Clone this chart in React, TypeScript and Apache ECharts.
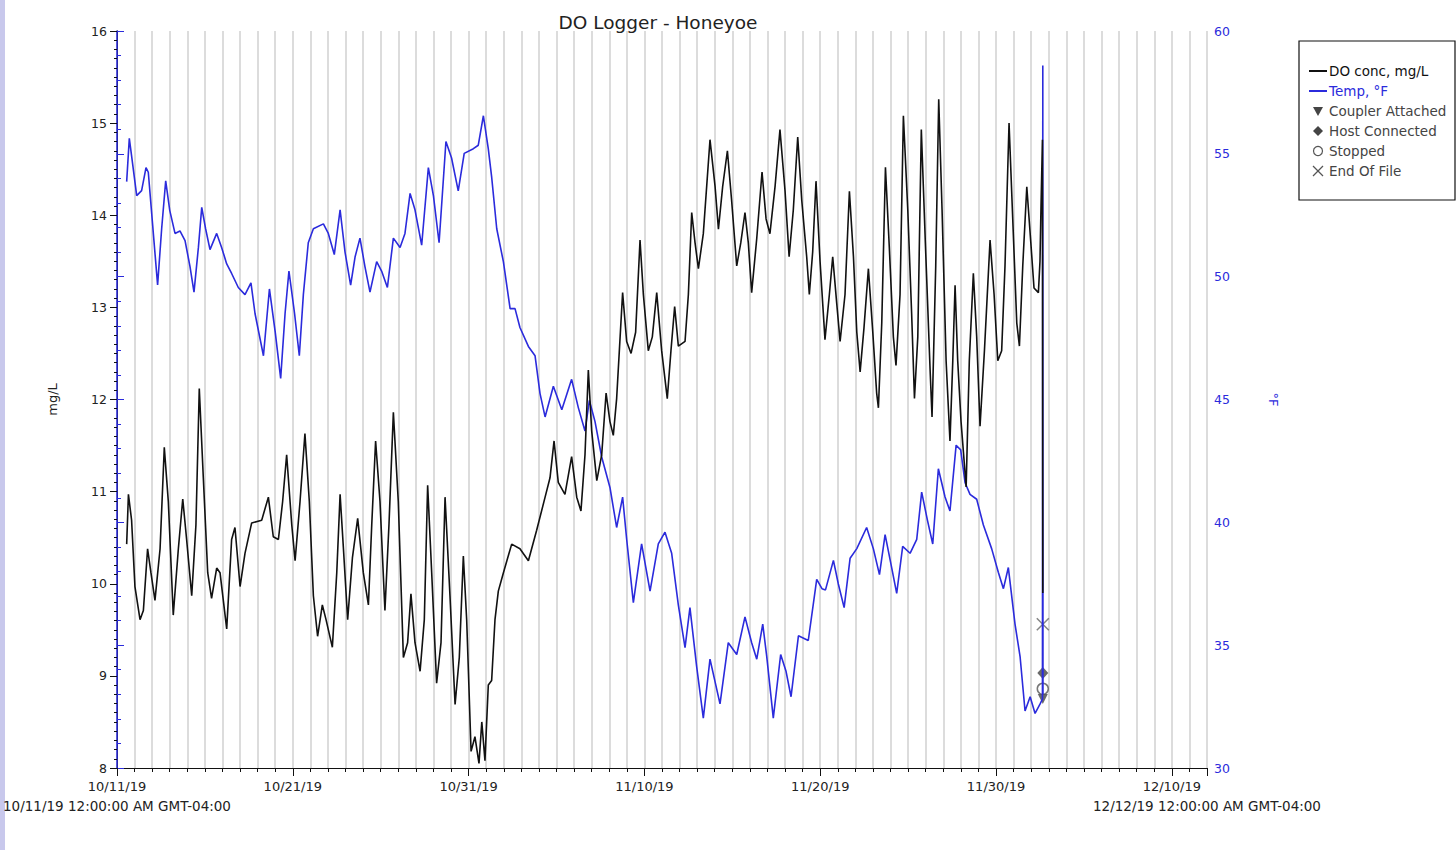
import React, { useEffect, useRef } from 'react';
import * as echarts from 'echarts';

// x values are days since 10/11/19 12:00 AM
const xTickLabels = ['10/11/19', '10/21/19', '10/31/19', '11/10/19', '11/20/19', '11/30/19', '12/10/19'];
const xStartLabel = '10/11/19 12:00:00 AM GMT-04:00';
const xEndLabel = '12/12/19 12:00:00 AM GMT-04:00';
const titleText = 'DO Logger - Honeyoe';
const legendLabels = ['DO conc, mg/L', 'Temp, °F', 'Coupler Attached', 'Host Connected', 'Stopped', 'End Of File'];

const tempSeg1: [number, number][] = [
  [0.55, 53.87], [0.70, 55.63], [0.83, 54.92], [1.12, 53.3], [1.4, 53.5], [1.65, 54.44], [1.78, 54.25], [2.0, 52.34],
  [2.31, 49.66], [2.54, 51.95], [2.77, 53.9], [3.0, 52.7], [3.3, 51.76], [3.58, 51.86], [3.87, 51.47], [4.15, 50.42],
  [4.38, 49.37], [4.63, 51.19], [4.82, 52.82], [5.04, 51.95], [5.29, 51.1], [5.67, 51.76], [5.95, 51.19], [6.24, 50.52],
  [6.52, 50.13], [6.9, 49.56], [7.28, 49.27], [7.62, 49.75], [7.85, 48.5], [8.33, 46.78], [8.67, 49.5], [9.0, 47.74],
  [9.31, 45.86], [9.56, 48.5], [9.78, 50.23], [10.1, 48.5], [10.37, 46.78], [10.6, 49.27], [10.88, 51.38], [11.17, 51.95],
  [11.74, 52.15], [12.02, 51.76], [12.36, 50.9], [12.69, 52.72], [12.97, 51.0], [13.29, 49.66], [13.54, 50.8], [13.82, 51.57],
  [14.1, 50.42], [14.39, 49.37], [14.77, 50.61], [15.05, 50.23], [15.38, 49.56], [15.72, 51.57], [16.1, 51.19], [16.38, 51.76],
  [16.67, 53.39], [16.95, 52.72], [17.33, 51.28], [17.71, 54.44], [18.0, 53.29], [18.32, 51.38], [18.71, 55.5], [19.03, 54.83],
  [19.41, 53.49], [19.75, 55.02], [20.27, 55.21],
];
const tempSeg2: [number, number][] = [
  [20.55, 55.35], [20.84, 56.55], [21.12, 55.2], [21.31, 54.06], [21.6, 51.95], [21.98, 50.6], [22.36, 48.7], [22.64, 48.7],
  [22.92, 47.93], [23.4, 47.16], [23.78, 46.78], [24.06, 45.25], [24.35, 44.29], [24.82, 45.54], [25.3, 44.58], [25.86, 45.82],
  [26.24, 44.67], [26.62, 43.72], [26.87, 44.96], [27.19, 44.1], [27.57, 42.66], [28.04, 41.42], [28.42, 39.79], [28.76, 41.03],
  [28.99, 39.31], [29.37, 36.73], [29.84, 39.12], [30.32, 37.2], [30.79, 39.12], [31.17, 39.6], [31.55, 38.74], [31.93, 36.63],
  [32.31, 34.9], [32.59, 36.53], [32.97, 34.14], [33.35, 32.03], [33.73, 34.43], [34.3, 32.61], [34.77, 35.1], [35.25, 34.62],
  [35.72, 36.15], [36.1, 35.1], [36.39, 34.43], [36.73, 35.86], [36.96, 34.52], [37.33, 32.03], [37.75, 34.62], [38.05, 33.95],
  [38.34, 32.9], [38.76, 35.38], [39.32, 35.19], [39.8, 37.68],
];
const tempSeg3: [number, number][] = [
  [40.1, 37.3], [40.3, 37.25], [40.75, 38.45], [41.03, 37.49], [41.36, 36.53], [41.7, 38.54], [42.08, 38.93], [42.64, 39.79],
  [43.02, 38.93], [43.37, 37.87], [43.69, 39.5], [44.01, 38.35], [44.35, 37.11], [44.69, 39.02], [45.11, 38.74], [45.49, 39.31],
  [45.77, 41.23], [46.1, 40.08], [46.4, 39.12], [46.72, 42.18], [47.1, 41.03], [47.38, 40.46], [47.73, 43.14], [47.99, 42.95],
  [48.24, 41.61], [48.52, 41.14], [48.9, 40.94], [49.28, 39.89], [49.75, 38.93], [50.13, 37.97], [50.42, 37.3], [50.7, 38.16],
  [51.08, 35.86], [51.37, 34.52], [51.65, 32.32], [51.94, 32.9], [52.22, 32.22], [52.5, 32.6], [52.64, 32.8], [52.66, 58.6],
  [52.67, 33.0],
];

const doSeg1: [number, number][] = [
  [0.55, 10.43], [0.65, 10.97], [0.83, 10.69], [1.02, 9.97], [1.31, 9.61], [1.5, 9.71], [1.74, 10.38], [1.93, 10.12],
  [2.16, 9.82], [2.45, 10.38], [2.69, 11.48], [2.92, 10.89], [3.2, 9.66], [3.49, 10.38], [3.74, 10.92], [3.96, 10.48],
  [4.25, 9.87], [4.49, 10.64], [4.68, 12.12], [4.91, 11.15], [5.16, 10.12], [5.38, 9.84], [5.67, 10.17], [5.86, 10.12],
  [6.24, 9.51], [6.52, 10.48], [6.71, 10.61], [7.0, 9.97], [7.28, 10.33], [7.66, 10.66], [8.23, 10.69], [8.61, 10.94],
  [8.89, 10.51], [9.18, 10.48], [9.42, 10.89], [9.65, 11.4], [9.94, 10.64], [10.13, 10.25], [10.41, 10.89], [10.69, 11.63],
  [10.94, 10.89], [11.17, 9.87], [11.41, 9.43], [11.68, 9.77], [11.89, 9.61], [12.25, 9.31], [12.5, 10.12], [12.69, 10.97],
  [12.88, 10.38], [13.12, 9.61], [13.39, 10.28], [13.69, 10.71], [14.01, 10.12], [14.3, 9.77], [14.49, 10.64], [14.71, 11.55],
  [14.96, 10.89], [15.24, 9.71], [15.47, 10.64], [15.72, 11.86], [16.0, 10.89], [16.29, 9.2], [16.53, 9.36], [16.72, 9.89],
  [16.95, 9.36], [17.24, 9.05], [17.48, 9.61], [17.67, 11.07], [17.9, 10.12], [18.18, 8.92], [18.43, 9.36], [18.66, 10.94],
  [18.94, 9.87], [19.23, 8.69], [19.47, 9.2], [19.7, 10.3], [19.89, 9.61], [20.14, 8.18], [20.36, 8.34], [20.59, 8.05],
];
const doSeg2: [number, number][] = [
  [20.75, 8.5], [20.93, 8.08], [21.12, 8.9], [21.31, 8.95], [21.5, 9.61], [21.69, 9.92], [21.98, 10.12], [22.45, 10.43],
  [22.92, 10.38], [23.4, 10.25], [23.87, 10.58], [24.35, 10.94], [24.63, 11.15], [24.86, 11.55], [25.1, 11.1], [25.48, 10.97],
  [25.86, 11.38], [26.15, 10.94], [26.39, 10.79], [26.62, 11.4], [26.81, 12.32], [27.0, 11.66], [27.29, 11.12], [27.57, 11.4],
  [27.82, 12.07], [28.04, 11.76], [28.23, 11.61], [28.42, 12.01], [28.76, 13.16], [28.99, 12.63], [29.24, 12.5], [29.5, 12.73],
  [29.75, 13.73], [29.94, 13.14], [30.22, 12.53], [30.45, 12.68], [30.7, 13.16], [30.98, 12.53], [31.3, 12.01], [31.51, 12.53],
  [31.72, 13.01], [31.93, 12.58], [32.31, 12.63], [32.5, 13.14], [32.69, 14.03], [32.88, 13.7], [33.07, 13.42], [33.35, 13.8],
  [33.73, 14.82], [34.02, 14.31], [34.21, 13.85], [34.45, 14.31], [34.72, 14.7], [34.96, 14.16], [35.25, 13.45], [35.48, 13.7],
  [35.72, 14.03], [35.91, 13.7], [36.1, 13.16], [36.39, 13.75], [36.69, 14.47], [36.92, 13.96], [37.14, 13.8], [37.43, 14.31],
  [37.71, 14.93], [38.0, 14.26], [38.23, 13.55], [38.47, 14.06], [38.72, 14.85], [38.95, 14.16], [39.23, 13.55], [39.38, 13.14],
  [39.57, 13.6], [39.76, 14.37], [39.99, 13.5], [40.27, 12.65],
];
const doSeg3: [number, number][] = [
  [40.52, 13.14], [40.71, 13.55], [40.94, 13.04], [41.13, 12.63], [41.41, 13.14], [41.66, 14.26], [41.89, 13.55], [42.08, 12.73],
  [42.27, 12.3], [42.49, 12.78], [42.74, 13.42], [42.99, 12.73], [43.21, 12.07], [43.31, 11.91], [43.5, 12.83], [43.71, 14.52],
  [43.93, 13.65], [44.16, 12.68], [44.31, 12.37], [44.54, 13.14], [44.73, 15.08], [44.98, 14.06], [45.2, 12.93], [45.36, 12.01],
  [45.55, 12.68], [45.75, 14.93], [45.98, 13.7], [46.25, 12.32], [46.36, 11.81], [46.57, 13.45], [46.74, 15.26], [46.93, 14.06],
  [47.16, 12.42], [47.38, 11.55], [47.54, 12.42], [47.67, 13.24], [47.82, 12.42], [48.01, 11.76], [48.3, 11.05], [48.48, 12.42],
  [48.71, 13.37], [48.9, 12.68], [49.09, 11.71], [49.34, 12.53], [49.66, 13.73], [49.89, 13.14], [50.1, 12.42], [50.32, 12.53],
  [50.51, 13.45], [50.74, 15.0], [50.95, 13.96], [51.18, 12.83], [51.33, 12.58], [51.52, 13.45], [51.75, 14.31], [51.98, 13.7],
  [52.16, 13.21], [52.41, 13.16], [52.5, 13.5], [52.56, 14.11], [52.64, 14.82], [52.66, 9.9],
];

const couplerAttached: [number, number][] = [[52.66, 8.75]];
const hostConnected: [number, number][] = [[52.66, 9.03]];
const stopped: [number, number][] = [[52.66, 8.86]];
const endOfFile: [number, number][] = [[52.66, 9.56]];

const FONT = 'DejaVu Sans';
const BLUE = '#2b2bdc';
const XPATH = 'path://M0,0L10,10M10,0L0,10';

export default function App() {
  const ref = useRef<HTMLDivElement>(null);
  useEffect(() => {
    const chart = echarts.init(ref.current!, null, { renderer: 'svg' });
    const legendX = 1299;
    const legendY = 41;
    const rowY = (i: number) => 71 + i * 20;
    const legendChildren: any[] = [
      { type: 'rect', shape: { x: legendX, y: legendY, width: 156, height: 159 }, style: { fill: '#fff', stroke: '#111', lineWidth: 1.2 } },
      { type: 'line', shape: { x1: 1309, y1: rowY(0), x2: 1327, y2: rowY(0) }, style: { stroke: '#111', lineWidth: 2 } },
      { type: 'line', shape: { x1: 1309, y1: rowY(1), x2: 1327, y2: rowY(1) }, style: { stroke: BLUE, lineWidth: 2 } },
      { type: 'polygon', shape: { points: [[1313, rowY(2) - 4], [1323, rowY(2) - 4], [1318, rowY(2) + 5]] }, style: { fill: '#444' } },
      { type: 'polygon', shape: { points: [[1318, rowY(3) - 5], [1323, rowY(3)], [1318, rowY(3) + 5], [1313, rowY(3)]] }, style: { fill: '#444' } },
      { type: 'circle', shape: { cx: 1318, cy: rowY(4), r: 4.5 }, style: { fill: '#fff', stroke: '#555', lineWidth: 1.2 } },
      { type: 'line', shape: { x1: 1313, y1: rowY(5) - 5, x2: 1323, y2: rowY(5) + 5 }, style: { stroke: '#555', lineWidth: 1.2 } },
      { type: 'line', shape: { x1: 1323, y1: rowY(5) - 5, x2: 1313, y2: rowY(5) + 5 }, style: { stroke: '#555', lineWidth: 1.2 } },
    ];
    legendLabels.forEach((t, i) => {
      legendChildren.push({
        type: 'text',
        style: {
          x: 1329, y: rowY(i), text: t, textVerticalAlign: 'middle', textAlign: 'left',
          font: `13.5px "${FONT}"`, fill: i === 0 ? '#111' : i === 1 ? BLUE : '#444',
        },
      });
    });

    const option: any = {
      animation: false,
      backgroundColor: '#fff',
      title: {
        text: titleText, left: 653, top: 8, textAlign: 'center',
        textStyle: { fontFamily: FONT, fontSize: 18.5, fontWeight: 'normal', color: '#222' },
      },
      grid: { left: 117, right: 249, top: 31, bottom: 82, containLabel: false },
      xAxis: [
        {
          type: 'value', min: 0, max: 62, interval: 1, position: 'bottom',
          axisLine: { show: true, lineStyle: { color: '#111', width: 1 } },
          axisTick: { show: true, length: 4, lineStyle: { color: '#111' } },
          axisLabel: { show: false },
          splitLine: { show: true, lineStyle: { color: '#dcdcdc', width: 2 } },
        },
        {
          type: 'value', min: 0, max: 62, interval: 10, position: 'bottom',
          axisLine: { show: true, lineStyle: { color: '#111', width: 1 } },
          axisTick: { show: true, length: 8, lineStyle: { color: '#111' } },
          axisLabel: {
            show: true, margin: 12, fontFamily: FONT, fontSize: 13, color: '#222',
            formatter: (v: number) => (Math.abs(v % 10) < 1e-6 ? xTickLabels[Math.round(v / 10)] || '' : ''),
          },
          splitLine: { show: false },
        },
      ],
      yAxis: [
        {
          type: 'value', min: 8, max: 16, interval: 1, position: 'left',
          name: 'mg/L', nameLocation: 'middle', nameGap: 58, nameRotate: 90,
          nameTextStyle: { fontFamily: FONT, fontSize: 13, color: '#222' },
          axisLine: { show: true, lineStyle: { color: '#111', width: 1 } },
          axisTick: { show: true, length: 7, lineStyle: { color: '#111' } },
          minorTick: { show: true, splitNumber: 10, length: 3, lineStyle: { color: '#111' } },
          axisLabel: { fontFamily: FONT, fontSize: 12.5, color: '#222', margin: 10 },
          splitLine: { show: false },
        },
        {
          type: 'value', min: 30, max: 60, interval: 5, position: 'right',
          name: '°F', nameLocation: 'middle', nameGap: 60, nameRotate: -90,
          nameTextStyle: { fontFamily: FONT, fontSize: 13, color: BLUE },
          axisLine: { show: true, lineStyle: { color: BLUE, width: 1.5 } },
          axisTick: { show: true, length: 7, lineStyle: { color: BLUE } },
          minorTick: { show: true, splitNumber: 5, length: 4, lineStyle: { color: BLUE } },
          axisLabel: { fontFamily: FONT, fontSize: 12.5, color: BLUE, margin: 7 },
          splitLine: { show: false },
        },
      ],
      series: [
        {
          name: 'Temp, °F', type: 'line', xAxisIndex: 0, yAxisIndex: 1, symbol: 'none', showSymbol: false,
          data: [...tempSeg1, ...tempSeg2, ...tempSeg3],
          lineStyle: { color: BLUE, width: 1.6 }, itemStyle: { color: BLUE },
        },
        {
          name: 'DO conc, mg/L', type: 'line', xAxisIndex: 0, yAxisIndex: 0, symbol: 'none', showSymbol: false,
          data: [...doSeg1, ...doSeg2, ...doSeg3],
          lineStyle: { color: '#111', width: 1.6 }, itemStyle: { color: '#111' },
        },
        {
          name: 'Coupler Attached', type: 'scatter', xAxisIndex: 0, yAxisIndex: 0, data: couplerAttached,
          symbol: 'triangle', symbolRotate: 180, symbolSize: 10, itemStyle: { color: '#444' },
        },
        {
          name: 'Host Connected', type: 'scatter', xAxisIndex: 0, yAxisIndex: 0, data: hostConnected,
          symbol: 'diamond', symbolSize: [11, 12], itemStyle: { color: '#444' },
        },
        {
          name: 'Stopped', type: 'scatter', xAxisIndex: 0, yAxisIndex: 0, data: stopped,
          symbol: 'circle', symbolSize: 11, itemStyle: { color: '#fff', borderColor: '#555', borderWidth: 1.5 },
        },
        {
          name: 'End Of File', type: 'scatter', xAxisIndex: 0, yAxisIndex: 0, data: endOfFile,
          symbol: XPATH, symbolSize: 12, itemStyle: { color: 'none', borderColor: '#666', borderWidth: 1.5 },
        },
      ],
      graphic: [
        { type: 'rect', shape: { x: 0, y: 0, width: 5, height: 850 }, style: { fill: '#c8c8ec' }, silent: true },
        {
          type: 'text', style: { x: 117, y: 806, text: xStartLabel, textAlign: 'center', textVerticalAlign: 'middle', font: `13.5px "${FONT}"`, fill: '#222' },
        },
        {
          type: 'text', style: { x: 1207, y: 806, text: xEndLabel, textAlign: 'center', textVerticalAlign: 'middle', font: `13.5px "${FONT}"`, fill: '#222' },
        },
        { type: 'group', children: legendChildren },
      ],
    };
    chart.setOption(option);
    return () => chart.dispose();
  }, []);
  return (
    <div
      ref={ref}
      style={{ position: 'fixed', left: 0, top: 0, width: 1456, height: 850, background: '#fff' }}
    />
  );
}
